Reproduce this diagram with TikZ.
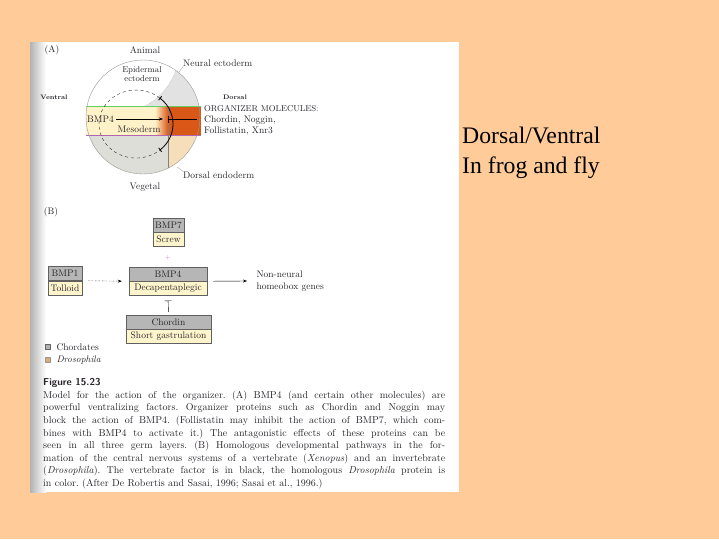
\documentclass[tikz,border=0pt]{standalone}
\usepackage{fontspec}
\usepackage{xcolor}
\usepackage{tikz}
\usetikzlibrary{arrows.meta}
\usetikzlibrary{shapes,arrows,positioning}
\newfontfamily\slidefont{Liberation Serif}

\definecolor{slidebg}{RGB}{255,204,153}
\definecolor{mesoyellow}{RGB}{255,242,200}
\definecolor{organizer}{RGB}{217,88,24}
\definecolor{endoderm}{RGB}{246,222,186}
\definecolor{vegetal}{RGB}{222,222,216}
\definecolor{neural}{RGB}{226,226,226}
\definecolor{chordgray}{RGB}{182,182,182}
\definecolor{flyyellow}{RGB}{255,245,205}
\definecolor{flytan}{RGB}{216,170,120}
\definecolor{scanink}{RGB}{40,36,42}

\begin{document}
\frenchspacing
\begin{tikzpicture}[x=1pt,y=-1pt,
    every node/.style={text=scanink, font=\fontsize{9.5}{11}\selectfont},
    vert/.style={draw=gray!75!black, fill=chordgray, minimum height=14pt, inner sep=0pt},
    fly/.style={draw=gray!75!black, fill=flyyellow, minimum height=14pt, inner sep=0pt},
    lab/.style={font=\fontsize{9.5}{11}\selectfont, inner sep=0pt},
    side/.style={font=\fontsize{6.5}{7}\selectfont\bfseries, inner sep=0pt}]
    % the slide and the scanned page
    \useasboundingbox (0,0) rectangle (719,539);
    \fill[slidebg] (0,0) rectangle (719,539);
    \fill[white] (30,42) rectangle (459,492);
    \shade[left color=gray!60, right color=white] (30,42) rectangle (46,492);

    % (A) the embryo
    \begin{scope}
      \clip (143,117) circle [radius=57];
      \fill[vegetal] (80,135) rectangle (168,180);
      \fill[endoderm] (168,135) rectangle (205,180);
      \fill[neural] (176,70) .. controls (170,86) and (160,98) .. (145,106) -- (205,106) -- (205,55) -- cycle;
    \end{scope}
    \fill[mesoyellow] (86,106) rectangle (155,135);
    \shade[left color=mesoyellow, right color=organizer] (155,106) rectangle (168,135);
    \fill[organizer] (168,106) rectangle (201,135);
    \draw[green!55!gray!80] (86,106) -- (201,106);
    \draw[violet!60] (86,135) -- (201,135);
    \draw[gray] (168,106) -- (168,168);
    \draw[gray!80] (143,117) circle [radius=57];
    \draw[gray!70, densely dotted] (176,70) .. controls (170,86) and (160,98) .. (145,106);

    % the signalling arcs
    \coordinate (arctop) at (159.8,98);
    \draw[dashed, black!85] (arctop) arc [start angle=-50, end angle=-310, x radius=37, y radius=34];
    \draw[thick, {Bar[width=5pt]}-{Bar[width=5pt]}] (arctop) arc [start angle=-50, end angle=50, x radius=37, y radius=34];

    % the labels of (A)
    \node (a) at (52,50) {(A)};
    \node (animal) at (145,50) {Animal};
    \node (vegetal) at (145,187) {Vegetal};
    \node[side] (ventral) at (54,97) {Ventral};
    \node[side] (dorsal) at (235,97) {Dorsal};
    \node[lab, align=center, font=\fontsize{8.5}{8.5}\selectfont] (epi) at (142,74) {Epidermal\\ectoderm};
    \node[lab, anchor=west] (nect) at (183,63) {Neural ectoderm};
    \node[lab, anchor=west] (dend) at (183,175) {Dorsal endoderm};
    \node[lab, anchor=west, align=left] (molecules) at (204,120) {{\fontsize{8.5}{11}\selectfont ORGANIZER MOLECULES:}\\Chordin, Noggin,\\Follistatin, Xnr3};
    \node[lab, anchor=west] (bmpA) at (87,119) {BMP4};
    \node[lab] (meso) at (139,129) {Mesoderm};
    \coordinate (nectpoint) at (179,72);
    \coordinate (dendpoint) at (177,167);
    \draw[gray!70] (nect.south west) -- (nectpoint);
    \draw[gray!70] (dend.north west) -- (dendpoint);

    % the arrows and bars
    \coordinate (meet) at (163,119);
    \coordinate (signal) at (197,119);
    \coordinate (block) at (168,119);
    \draw[-{Stealth[length=4pt,width=3pt]}] ([xshift=2pt]bmpA.east) -- (meet);
    \draw[-{Bar[width=7pt]}] (signal) -- (block);

    % (B) the pathways
    \node (b) at (51,212) {(B)};
    \node[vert, minimum width=31pt] (bmpseven) at (168.5,225) {BMP7};
    \node[fly, minimum width=31pt, below=0pt of bmpseven] (screw) {Screw};
    \node[font=\fontsize{6}{6}\selectfont, text=violet!50] (plus) at (168,258) {+};
    \node[vert, minimum width=34pt] (bmpone) at (65,273.5) {BMP1};
    \node[fly, minimum width=34pt, below=0pt of bmpone] (tolloid) {Tolloid};
    \node[vert, minimum width=78pt] (bmpfour) at (168,274) {BMP4};
    \node[fly, minimum width=78pt, below=0pt of bmpfour] (dpp) {Decapentaplegic};
    \node[vert, minimum width=85pt] (chordin) at (168.5,322) {Chordin};
    \node[fly, minimum width=85pt, below=0pt of chordin] (sog) {Short gastrulation};
    \node[anchor=west, align=left, font=\fontsize{9.5}{12}\selectfont] (genes) at (253,281) {Non-neural\\homeobox genes};
    \draw[densely dotted, -{Stealth[length=4pt,width=3pt]}] ([xshift=6pt]bmpone.south east) -- ([xshift=-7pt]bmpfour.south west);
    \draw[-{Stealth[length=4pt,width=3pt]}] ([xshift=6pt]bmpfour.south east) -- ([xshift=-6pt]genes.west);
    \draw[-{Bar[width=7pt]}, shorten <=3pt, shorten >=5pt] (chordin.north) -- (dpp.south);

    % the key
    \node[draw=gray!80!black, fill=gray!60, minimum size=5pt, inner sep=0pt] (keyvert) at (48,347) {};
    \node[anchor=west] (chordates) at (53,347) {Chordates};
    \node[draw=gray!80, fill=flytan, minimum size=5pt, inner sep=0pt] (keyfly) at (48,360) {};
    \node[anchor=west] (droso) at (53,360) {\textit{Drosophila}};

    % the legend
    \node[anchor=base west, inner sep=0pt, font=\fontsize{10}{12}\selectfont\sffamily\bfseries] (fig) at (43,385) {Figure 15.23};
    \node[anchor=north west, align=left, inner sep=0pt, font=\fontsize{10}{12.6}\selectfont] (caption) at (43,390.5) {%
      \makebox[402pt][s]{Model for the action of the organizer. (A) BMP4 (and certain other molecules) are}\\
      \makebox[402pt][s]{powerful ventralizing factors. Organizer proteins such as Chordin and Noggin may}\\
      \makebox[402pt][s]{block the action of BMP4. (Follistatin may inhibit the action of BMP7, which com-}\\
      \makebox[402pt][s]{bines with BMP4 to activate it.) The antagonistic effects of these proteins can be}\\
      \makebox[402pt][s]{seen in all three germ layers. (B) Homologous developmental pathways in the for-}\\
      \makebox[402pt][s]{mation of the central nervous systems of a vertebrate (\textit{Xenopus}) and an invertebrate}\\
      \makebox[402pt][s]{(\textit{Drosophila}). The vertebrate factor is in black, the homologous \textit{Drosophila} protein is}\\
      in color. (After De Robertis and Sasai, 1996; Sasai et al., 1996.)};

    % the slide title
    \node[anchor=base west, inner sep=0pt, text=black, font=\slidefont\fontsize{23.7}{28}\selectfont] (dv) at (462,143) {Dorsal/Ventral};
    \node[anchor=base west, inner sep=0pt, text=black, font=\slidefont\fontsize{23.7}{28}\selectfont] (frog) at (462,173) {In frog and fly};
\end{tikzpicture}
\end{document}
